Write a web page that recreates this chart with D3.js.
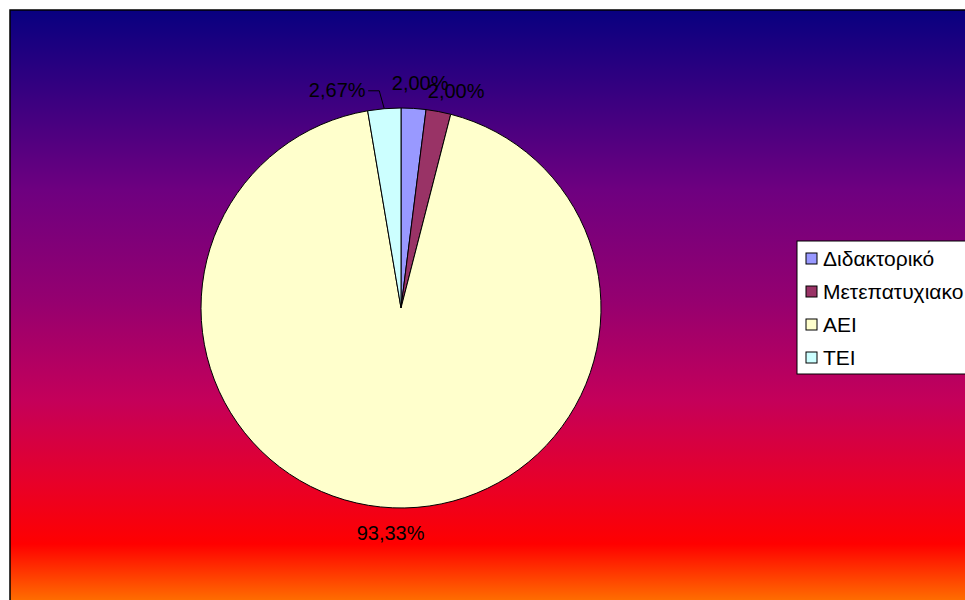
<!DOCTYPE html>
<html>
<head>
<meta charset="utf-8">
<script src="https://cdn.jsdelivr.net/npm/d3@7.9.0/dist/d3.min.js"></script>
<style>
  html, body { margin: 0; padding: 0; background: #fff; }
  svg { display: block; font-family: Arial, "Liberation Sans", sans-serif; }
</style>
</head>
<body>
<svg id="chart" width="965" height="600"></svg>
<script>
// Categories and counts (percentages are shares of the total)
const categories = ['Διδακτορικό', 'Μετεπατυχιακο', 'ΑΕΙ', 'ΤΕΙ'];
const counts = [3, 3, 140, 4];
const sliceColors = ['#9999ff', '#993366', '#ffffcc', '#ccffff'];

const svg = d3.select('#chart');
const width = 965, height = 600;

// Background gradient panel
const defs = svg.append('defs');
const grad = defs.append('linearGradient')
  .attr('id', 'bg')
  .attr('x1', 0).attr('y1', 0).attr('x2', 0).attr('y2', 1);
[[0, '#080080'], [0.3, '#6e0080'], [0.48, '#940070'], [0.65, '#c4005a'], [0.79, '#e80028'], [0.89, '#ff0000'], [1, '#ff8000']]
  .forEach(([o, c]) => grad.append('stop').attr('offset', o).attr('stop-color', c));

svg.append('rect')
  .attr('x', 10).attr('y', 10)
  .attr('width', width).attr('height', height)
  .attr('fill', 'url(#bg)')
  .attr('stroke', '#000').attr('stroke-width', 1.5);

// Pie
const cx = 401, cy = 308, radius = 200;
const total = d3.sum(counts);
const data = categories.map((c, i) => ({ label: c, value: counts[i] }));
const pie = d3.pie().sort(null).value(d => d.value);
const arcs = pie(data);
const arcGen = d3.arc().innerRadius(0).outerRadius(radius);
const labelArc = d3.arc().innerRadius(225).outerRadius(225);

const g = svg.append('g').attr('transform', `translate(${cx},${cy})`);
g.selectAll('path')
  .data(arcs)
  .join('path')
  .attr('d', arcGen)
  .attr('fill', (d, i) => sliceColors[i])
  .attr('stroke', '#000')
  .attr('stroke-width', 1);

// Label nudges for the small crowded slices
const nudges = [[5, 0], [13, 4], [-1, 0], [-45, 6]];
const fmt = v => (v / total * 100).toFixed(2).replace('.', ',') + '%';

arcs.forEach((d, i) => {
  const [lx, ly] = labelArc.centroid(d);
  const x = lx + nudges[i][0], y = ly + nudges[i][1];
  g.append('text')
    .attr('x', x).attr('y', y)
    .attr('text-anchor', 'middle')
    .attr('dominant-baseline', 'central')
    .attr('font-size', 20)
    .attr('fill', '#000')
    .text(fmt(d.data.value));
  if (i === 3) {
    // leader line from label to slice edge
    const edge = d3.arc().innerRadius(radius).outerRadius(radius).centroid(d);
    g.append('path')
      .attr('d', `M${x + 31},${y + 1}H${edge[0] - 5}L${edge[0]},${edge[1]}`)
      .attr('fill', 'none')
      .attr('stroke', '#000')
      .attr('stroke-width', 1);
  }
});

// Legend
const legend = svg.append('g').attr('transform', 'translate(797,241)');
legend.append('rect')
  .attr('width', 180).attr('height', 133)
  .attr('fill', '#fff').attr('stroke', '#000').attr('stroke-width', 1);
const rowY = d3.scalePoint().domain(categories).range([17, 116]);
categories.forEach((c, i) => {
  const row = legend.append('g').attr('transform', `translate(0,${rowY(c)})`);
  row.append('rect')
    .attr('x', 9).attr('y', -5).attr('width', 11).attr('height', 11)
    .attr('fill', sliceColors[i]).attr('stroke', '#000').attr('stroke-width', 1);
  row.append('text')
    .attr('x', 26).attr('y', 0)
    .attr('dominant-baseline', 'central')
    .attr('font-size', 21)
    .attr('fill', '#000')
    .text(c);
});
</script>
</body>
</html>
